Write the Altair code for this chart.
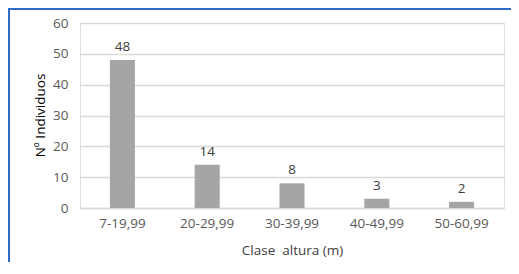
import altair as alt
import pandas as pd

categories = ["7-19,99", "20-29,99", "30-39,99", "40-49,99", "50-60,99"]
values = [48, 14, 8, 3, 2]

df = pd.DataFrame({"clase": categories, "n": values})

FONT = "Open Sans"
FS = 13.5

base = alt.Chart(df).encode(
    x=alt.X("clase:N", sort=categories,
            scale=alt.Scale(paddingInner=0.705, paddingOuter=0.3525),
            axis=alt.Axis(title="Clase\u00a0 altura (m)", labelAngle=0, ticks=False,
                          domainColor="#D9D9D9", domainWidth=1.5,
                          labelPadding=8, labelColor="#595959", labelFontSize=FS,
                          labelFont=FONT, titleFont=FONT, titleFontSize=FS,
                          titleFontWeight="normal", titleColor="#404040",
                          titleBaseline="middle", titleY=42)),
    y=alt.Y("n:Q", scale=alt.Scale(domain=[0, 60]),
            axis=alt.Axis(title="Nº Individuos", values=[0, 10, 20, 30, 40, 50, 60],
                          ticks=False, domain=False, gridColor="#D9D9D9", gridWidth=1.5,
                          labelPadding=12, labelColor="#595959", labelFontSize=FS,
                          labelFont=FONT, titleFont=FONT, titleFontSize=FS,
                          titleFontWeight="normal", titleColor="#000000",
                          titleAngle=-90, titleBaseline="middle", titleX=-40, titleY=92)),
)

bars = base.mark_bar(color="#A5A5A5")
labels = base.mark_text(baseline="bottom", dy=-6, font=FONT, fontSize=FS,
                        color="#404040").encode(text="n:Q")

frame_top = alt.Chart(df).mark_rule(color="#2E6BC6", strokeWidth=1.5).encode(
    x=alt.value(-72), x2=alt.value(431), y=alt.value(-14))
frame_left = alt.Chart(df).mark_rule(color="#2E6BC6", strokeWidth=1.5).encode(
    x=alt.value(-71), y=alt.value(-14), y2=alt.value(239))

chart = alt.layer(bars, labels, frame_top, frame_left).properties(
    width=424, height=185,
    autosize=alt.AutoSizeParams(type="none"),
    padding={"left": 72, "top": 15, "right": 7, "bottom": 54},
).configure_view(stroke=None).configure(background="white")

chart.save("out.html", embed_options={"renderer": "svg", "actions": False})
